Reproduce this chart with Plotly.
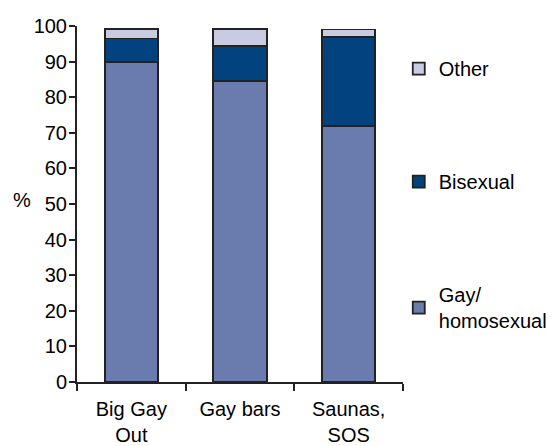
import plotly.graph_objects as go

# Data
venues = ["Big Gay<br>Out", "Gay bars", "Saunas,<br>SOS"]
gay = [90.0, 84.5, 72.0]
bisexual = [6.5, 9.8, 25.0]
other = [2.7, 4.8, 2.0]

colors = {"gay": "#6A7BAD", "bi": "#02437F", "other": "#C9CBE0"}
edge = dict(color="#222222", width=1.8)

fig = go.Figure()
fig.add_trace(go.Bar(x=venues, y=gay, name="Gay/<br>homosexual", legendrank=3,
                     marker=dict(color=colors["gay"], line=edge), legendgroup="g"))
fig.add_trace(go.Bar(x=venues, y=bisexual, name="Bisexual", legendrank=2,
                     marker=dict(color=colors["bi"], line=edge), legendgroup="b"))
fig.add_trace(go.Bar(x=venues, y=other, name="Other", legendrank=1,
                     marker=dict(color=colors["other"], line=edge), legendgroup="o"))

# page body adds 8px offset, so margins are trimmed accordingly
fig.update_layout(
    barmode="stack",
    bargap=0.51,
    width=554, height=446,
    margin=dict(l=69, r=159, t=18, b=72, autoexpand=False),
    paper_bgcolor="white", plot_bgcolor="white",
    font=dict(family="Liberation Sans, Arial", size=20, color="black"),
    legend=dict(traceorder="grouped", x=0.987, xanchor="left", y=0.935, yanchor="top",
                tracegroupgap=84, font=dict(size=20), itemwidth=30),
    showlegend=True,
)
fig.update_xaxes(showline=True, linecolor="#222222", linewidth=2, automargin=False,
                 ticks="outside", tickson="boundaries", ticklen=7, tickwidth=2,
                 tickcolor="#222222", showgrid=False, ticklabelstandoff=8)
fig.update_yaxes(range=[0, 100], dtick=10, showline=True, linecolor="#222222", linewidth=2,
                 automargin=False, ticks="outside", ticklen=6, tickwidth=2, tickcolor="#222222",
                 showgrid=False, zeroline=False, ticklabelstandoff=-2)
fig.add_annotation(text="%", xref="paper", yref="paper", x=-0.169, y=0.511,
                   xanchor="center", showarrow=False, font=dict(size=20))

fig.write_html("out.html")
